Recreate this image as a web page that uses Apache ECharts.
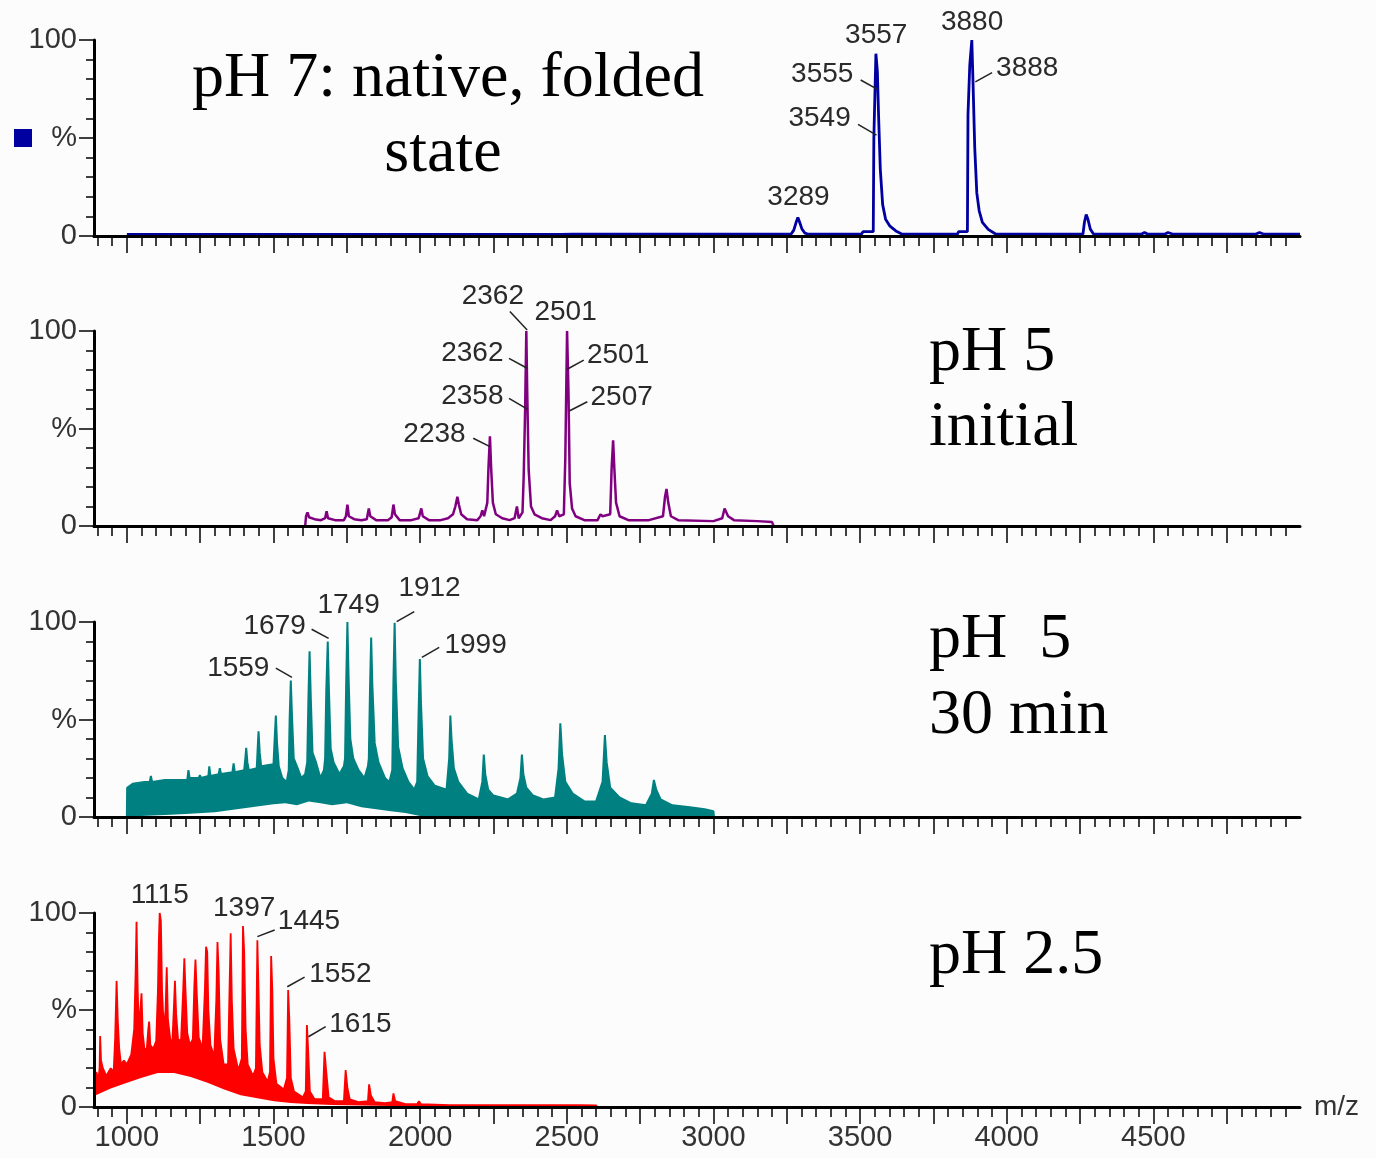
<!DOCTYPE html>
<html>
<head>
<meta charset="utf-8">
<script src="https://cdn.jsdelivr.net/npm/echarts@6/dist/echarts.min.js"></script>
<style>
  html, body { margin: 0; padding: 0; background: #fcfcfc; }
  #chart { width: 1376px; height: 1158px; }
</style>
</head>
<body>
<div id="chart"></div>
<script>
// m/z axis labels
const xLabels = [1000, 1500, 2000, 2500, 3000, 3500, 4000, 4500];

// pH 7 spectrum, [m/z, %]
const ph7Trace = [
  [1000, 0.8], [2480, 0.8], [2520, 1.0], [3265, 1.0], [3274, 3], [3282, 7], [3288, 9.5], [3294, 7], [3302, 3.5], [3312, 1.5], [3322, 1.0],
  [3505, 1.0], [3510, 2.2], [3545, 2.2], [3547, 50], [3551, 51], [3554, 93], [3559, 84], [3563, 62], [3569, 34], [3577, 16], [3587, 8.6], [3602, 5], [3622, 2.6], [3642, 1.0],
  [3832, 1.0], [3836, 2.2], [3866, 2.2], [3868, 62], [3874, 87], [3881, 100], [3885, 79], [3891, 45], [3898, 22], [3906, 13], [3917, 7], [3937, 3.4], [3962, 1.0],
  [4260, 1.0], [4265, 7], [4271, 11], [4277, 8.5], [4285, 3.5], [4296, 1.0], [4460, 1.0], [4470, 1.8], [4480, 1.0], [4540, 1.0], [4550, 1.8], [4565, 1.0],
  [4850, 1.0], [4862, 1.8], [4875, 1.0], [5000, 1.0]
];

// pH 5 initial
const ph5Trace = [
  [1608, 0], [1611, 5], [1616, 7], [1621, 4.5], [1640, 3.5], [1662, 3], [1676, 4], [1681, 7.5], [1686, 4], [1710, 3], [1740, 3], [1747, 5], [1752, 11], [1757, 5],
  [1775, 3.5], [1800, 3], [1818, 3.5], [1825, 9], [1830, 5], [1850, 3], [1890, 3], [1903, 4.5], [1909, 11], [1914, 6], [1930, 3], [1970, 3], [1995, 4], [2004, 9],
  [2009, 5], [2030, 3], [2070, 3], [2095, 4], [2112, 6], [2120, 10], [2127, 15], [2132, 11], [2140, 6], [2160, 3.5], [2195, 3], [2206, 5], [2212, 8], [2218, 5],
  [2229, 12], [2233, 30], [2238, 46], [2242, 30], [2248, 12], [2258, 6], [2280, 4], [2305, 3], [2322, 4], [2330, 10], [2336, 4], [2349, 7], [2353, 25], [2358, 60],
  [2362, 100], [2365, 70], [2370, 29], [2378, 10], [2390, 6], [2415, 4], [2445, 3], [2460, 5], [2467, 8], [2474, 5], [2490, 6], [2495, 35], [2501, 100], [2506, 67],
  [2510, 22], [2518, 9], [2530, 5], [2560, 3], [2605, 3], [2615, 6], [2622, 5], [2648, 6], [2653, 30], [2658, 44], [2662, 30], [2668, 12], [2680, 5], [2710, 3],
  [2780, 3], [2828, 5], [2835, 15], [2840, 19], [2846, 12], [2855, 5], [2880, 3], [3000, 2.5], [3030, 4], [3038, 9], [3043, 10], [3050, 5], [3070, 3], [3150, 2.5],
  [3200, 2], [3205, 0]
];

// pH 5 after 30 min: upper trace and lower edge of the noise
const ph5lateTrace = [
  [1000, 0], [1001, 15], [1020, 17], [1060, 18], [1078, 18], [1082, 21], [1086, 18], [1130, 19], [1180, 19], [1206, 19], [1210, 24], [1214, 20], [1245, 20],
  [1249, 21.5], [1253, 20], [1278, 21], [1281, 26], [1285, 21], [1313, 22], [1317, 25], [1321, 22], [1360, 23], [1364, 27.5], [1368, 23], [1400, 24], [1404, 30],
  [1407, 35.5], [1411, 28], [1416, 24], [1443, 25], [1446, 35], [1449, 44], [1453, 33], [1458, 26], [1500, 27], [1504, 40], [1508, 52], [1512, 38], [1518, 26],
  [1530, 20], [1545, 18], [1552, 24], [1555, 50], [1559, 70], [1563, 52], [1569, 30], [1580, 26], [1595, 20], [1608, 22], [1615, 28], [1619, 60], [1623, 85],
  [1627, 62], [1633, 33], [1645, 28], [1660, 20], [1672, 24], [1676, 30], [1680, 65], [1685, 90], [1689, 65], [1695, 35], [1705, 28], [1725, 22], [1740, 26],
  [1744, 30], [1748, 70], [1752, 100], [1756, 72], [1762, 40], [1772, 30], [1790, 24], [1810, 20], [1822, 26], [1825, 30], [1829, 65], [1833, 92], [1837, 68],
  [1845, 38], [1858, 28], [1880, 20], [1895, 18], [1905, 24], [1909, 70], [1913, 99.6], [1917, 70], [1925, 36], [1940, 25], [1960, 18], [1980, 14], [1990, 18],
  [1995, 55], [1999, 81], [2003, 58], [2010, 30], [2025, 21], [2050, 16], [2090, 14], [2099, 30], [2103, 52], [2107, 40], [2115, 25], [2130, 18],
  [2160, 12], [2200, 9], [2212, 18], [2217, 32], [2222, 22], [2232, 14], [2250, 11], [2300, 9], [2330, 12], [2342, 20], [2347, 32], [2352, 22], [2362, 15],
  [2385, 11], [2420, 9], [2460, 10], [2472, 25], [2478, 48], [2484, 32], [2495, 18], [2520, 12], [2560, 8], [2600, 8], [2622, 18], [2630, 42], [2636, 28],
  [2648, 15], [2680, 10], [2720, 7], [2770, 6], [2790, 12], [2797, 19], [2805, 14], [2820, 9], [2860, 6], [2920, 5], [2970, 4], [3000, 3], [3002, 0]
];
const ph5lateFloor = [
  [1000, 0], [1050, 0.5], [1130, 1], [1200, 1.5], [1300, 2.5], [1350, 3.5], [1400, 4.5], [1450, 5.5], [1500, 6.5], [1540, 7], [1580, 6], [1620, 8],
  [1660, 7], [1700, 6], [1750, 7], [1800, 5], [1850, 4], [1900, 3], [1950, 2], [2000, 0.5], [2050, 0], [3002, 0]
];

// pH 2.5
const ph25Trace = [
  [894, 6], [896, 18], [903, 14], [907, 20], [909, 36.6], [912, 24], [918, 20], [930, 16], [945, 20], [955, 18], [960, 35], [965, 65], [969, 45], [974, 30],
  [980, 22], [990, 24], [1000, 22], [1015, 27], [1025, 40], [1030, 70], [1033, 95.5], [1037, 60], [1041, 40], [1046, 50], [1050, 58.6], [1054, 38], [1060, 30],
  [1068, 30], [1073, 40], [1076, 44], [1080, 32], [1090, 30], [1100, 34], [1106, 60], [1109, 85], [1112, 100], [1116, 96], [1120, 60], [1126, 40], [1132, 50],
  [1136, 72], [1140, 45], [1148, 35], [1155, 33], [1160, 50], [1164, 65], [1168, 48], [1175, 34], [1185, 35], [1192, 60], [1196, 76.6], [1200, 60], [1206, 38],
  [1215, 32], [1225, 35], [1230, 62], [1234, 76], [1238, 60], [1245, 36], [1258, 30], [1266, 60], [1270, 82.6], [1274, 80], [1278, 50], [1285, 32], [1298, 26],
  [1305, 55], [1309, 85], [1313, 70], [1318, 35], [1330, 22], [1345, 22], [1350, 60], [1354, 89.5], [1358, 55], [1364, 30], [1380, 19], [1392, 25], [1396, 93.3],
  [1400, 80], [1405, 40], [1412, 22], [1430, 16], [1440, 20], [1445, 86], [1449, 60], [1453, 32], [1462, 18], [1480, 13], [1488, 18], [1492, 77.8], [1496, 60],
  [1500, 25], [1510, 12], [1535, 9], [1546, 15], [1550, 60.3], [1554, 45], [1559, 15], [1570, 8], [1600, 5], [1610, 8], [1614, 42.3], [1618, 30], [1624, 8],
  [1640, 4], [1668, 4], [1674, 28.5], [1680, 18], [1688, 5], [1710, 3], [1740, 3], [1746, 19], [1752, 10], [1760, 4], [1790, 2.5], [1822, 3], [1826, 11.7],
  [1832, 6], [1845, 2.5], [1880, 2], [1905, 2.5], [1909, 7], [1915, 3], [1950, 1.5], [1990, 1.5], [1996, 3], [2002, 1.5], [2100, 1], [2200, 1], [2280, 1],
  [2283, 2], [2290, 1], [2450, 1], [2550, 1], [2600, 0.8], [2605, 0]
];
const ph25Floor = [
  [894, 6], [900, 7], [945, 9.5], [991, 12], [1048, 15], [1105, 17.5], [1161, 17.5], [1218, 15.5], [1275, 12.5], [1332, 9], [1388, 6], [1445, 4.5],
  [1502, 3], [1559, 2], [1616, 1.5], [1700, 1], [1800, 0.8], [1900, 0.5], [2605, 0.5]
];

const bg = '#fcfcfc';
const labelFont = 'Liberation Sans';
const serif = 'Liberation Serif';

var chart = echarts.init(document.getElementById('chart'));

const panels = [
  { top: 40, height: 196 },
  { top: 331, height: 195 },
  { top: 622, height: 195 },
  { top: 913, height: 194 }
];

let minorTicks = [], majorTicks = [];
for (let v = 900; v < 5000; v += 50) minorTicks.push(v);
for (let v = 1000; v < 5000; v += 250) majorTicks.push(v);

let xAxes = [], yAxes = [];
panels.forEach((p, i) => {
  const last = i === panels.length - 1;
  xAxes.push({
    type: 'value', gridIndex: i, position: 'bottom', min: 888, max: 5000, z: 5,
    axisLine: { lineStyle: { color: '#000', width: 3 } },
    axisTick: { customValues: minorTicks, length: 10, lineStyle: { color: '#000', width: 1.5 } },
    axisLabel: { show: last, customValues: xLabels, formatter: v => String(v), margin: 16, fontSize: 29, color: '#333', fontFamily: labelFont },
    splitLine: { show: false },
    name: last ? 'm/z' : '', nameLocation: 'end', nameGap: 14,
    nameTextStyle: { fontSize: 28, color: '#333', fontFamily: labelFont, verticalAlign: 'middle', align: 'left' }
  });
  yAxes.push({
    type: 'value', gridIndex: i, min: 0, max: 100, interval: 50, z: 5,
    axisLine: { show: true, lineStyle: { color: '#000', width: 3 } },
    axisTick: { length: 15, lineStyle: { color: '#000', width: 1.5 } },
    minorTick: { show: true, splitNumber: 5, length: 8, lineStyle: { color: '#000', width: 1.5 } },
    axisLabel: { formatter: v => v === 50 ? '%' : String(v), margin: 17, fontSize: 29, color: '#333', fontFamily: labelFont },
    splitLine: { show: false }
  });
});
// longer ticks every 250
panels.forEach((p, i) => {
  xAxes.push({
    type: 'value', gridIndex: i, position: 'bottom', min: 888, max: 5000, z: 5,
    axisLine: { show: false },
    axisTick: { customValues: majorTicks, length: 17, lineStyle: { color: '#000', width: 1.5 } },
    axisLabel: { show: false },
    splitLine: { show: false }
  });
});

function trace(i, data, color, width, filled) {
  return {
    type: 'line', xAxisIndex: i, yAxisIndex: i, data: data, showSymbol: false, symbol: 'none',
    clip: false, z: 2, animation: false,
    lineStyle: { color: color, width: width },
    areaStyle: filled ? { color: color, opacity: 1 } : undefined
  };
}
function floor(i, data) {
  return {
    type: 'line', xAxisIndex: i, yAxisIndex: i, data: data, showSymbol: false, symbol: 'none',
    z: 3, animation: false, silent: true,
    lineStyle: { width: 0 },
    areaStyle: { color: bg, opacity: 1 }
  };
}

chart.setOption({
  backgroundColor: bg,
  animation: false,
  grid: panels.map(p => ({ left: 94, right: 76, top: p.top, height: p.height })),
  xAxis: xAxes,
  yAxis: yAxes,
  series: [
    trace(0, ph7Trace, '#0000a0', 2.8, false),
    trace(1, ph5Trace, '#800080', 2.5, false),
    trace(2, ph5lateTrace, '#008080', 2, true),
    floor(2, ph5lateFloor),
    trace(3, ph25Trace, '#ff0000', 1.8, true),
    floor(3, ph25Floor)
  ]
});

// peak annotations: series index, text, text centre, leader line
const notes = [
  [0, '3557', [3555, 102.6]],
  [0, '3555', [3371, 82.7], [3502, 79.6], [3561, 74.7]],
  [0, '3549', [3362, 60.2], [3493, 57], [3556, 51.5]],
  [0, '3880', [3882, 109]],
  [0, '3888', [4070, 85.7], [3950, 83.4], [3893, 78.6]],
  [0, '3289', [3290, 20]],
  [1, '2362', [2248, 117.8], [2306, 110], [2365, 100.5]],
  [1, '2501', [2496, 109.5]],
  [1, '2362', [2178, 88.6], [2303, 86], [2365, 80.9]],
  [1, '2501', [2675, 87.7], [2558, 85.1], [2501, 80.4]],
  [1, '2358', [2178, 66.3], [2303, 65.5], [2367, 59.8]],
  [1, '2507', [2687, 65.9], [2570, 63.7], [2510, 59.1]],
  [1, '2238', [2049, 47.2], [2181, 45], [2238, 40.7]],
  [2, '1559', [1380, 76.3], [1508, 76.3], [1563, 71.6]],
  [2, '1679', [1504, 97.6], [1630, 96.3], [1688, 91.6]],
  [2, '1749', [1756, 108.7]],
  [2, '1912', [2032, 117.4], [1980, 105.3], [1920, 100.2]],
  [2, '1999', [2189, 88.2], [2065, 87], [2006, 81.9]],
  [4, '1115', [1112, 109.3]],
  [4, '1397', [1400, 102.4]],
  [4, '1445', [1621, 95.5], [1504, 91.2], [1445, 87.8]],
  [4, '1552', [1728, 68.6], [1606, 66.9], [1547, 62]],
  [4, '1615', [1796, 42.8], [1678, 41.4], [1619, 36.2]]
];

let graphics = [];
notes.forEach(n => {
  const p = chart.convertToPixel({ seriesIndex: n[0] }, n[2]);
  graphics.push({
    type: 'text', x: p[0], y: p[1], z: 20,
    style: { text: n[1], font: '28px "' + labelFont + '"', fill: '#2a2a2a', align: 'center', verticalAlign: 'middle', textAlign: 'center', textVerticalAlign: 'middle' }
  });
  if (n[3]) {
    const a = chart.convertToPixel({ seriesIndex: n[0] }, n[3]);
    const b = chart.convertToPixel({ seriesIndex: n[0] }, n[4]);
    graphics.push({
      type: 'line', z: 20,
      shape: { x1: a[0], y1: a[1], x2: b[0], y2: b[1] },
      style: { stroke: '#222', lineWidth: 1.5 }
    });
  }
});

// condition captions
const captions = [
  ['pH 7: native, folded', 448, 79, 'center'],
  ['state', 443, 154, 'center'],
  ['pH 5', 929, 353, 'left'],
  ['initial', 929, 428, 'left'],
  ['pH  5', 929, 640, 'left'],
  ['30 min', 929, 716, 'left'],
  ['pH 2.5', 929, 956, 'left']
];
captions.forEach(c => {
  graphics.push({
    type: 'text', x: c[1], y: c[2], z: 20,
    style: { text: c[0], font: '64px "' + serif + '"', fill: '#000', align: c[3], verticalAlign: 'middle', textAlign: c[3], textVerticalAlign: 'middle' }
  });
});
graphics.push({ type: 'rect', shape: { x: 14, y: 129, width: 18, height: 18 }, style: { fill: '#0000a0' }, z: 20 });

chart.setOption({ graphic: graphics });
</script>
</body>
</html>
